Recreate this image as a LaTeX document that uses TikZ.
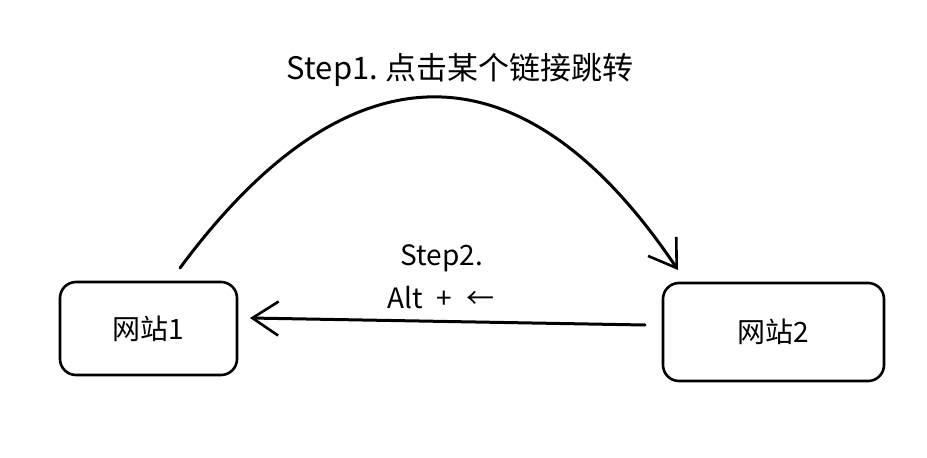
\documentclass[tikz,border=0pt]{standalone}
\usepackage{fontspec}
\setmainfont{Noto Sans CJK SC}
\usetikzlibrary{arrows.meta}
\begin{document}
\begin{tikzpicture}[x=1pt,y=-1pt,
  site/.style={draw=black,line width=2.6pt,rounded corners=16pt,fill=white,font=\fontsize{28}{30}\selectfont,inner sep=0pt},
  conn/.style={line width=3pt,line cap=round,-{Straight Barb[length=26pt,width=34pt,line width=2.6pt]}},
  lbl/.style={font=\fontsize{28}{30}\selectfont,inner sep=0pt}]
\useasboundingbox[fill=white] (0,0) rectangle (927,458);
\node[site,minimum width=177pt,minimum height=93pt] (a) at (148.5,328.5) {网站1};
\node[site,minimum width=221pt,minimum height=98pt] (b) at (773.5,332) {网站2};
\coordinate (s1) at (180,268);
\coordinate (e1) at (678,270);
\coordinate (s2) at (645,325);
\coordinate (e2) at (250,318);
\draw[conn] (s1) .. controls (345,45) and (520,35) .. (e1);
\draw[conn] (s2) -- (e2);
\node[lbl,font=\fontsize{31}{34}\selectfont] (t1) at (460,70) {Step1.~点击某个链接跳转};
\node[lbl] (t2) at (442,258) {Step2.};
\node[lbl] (t3) at (441,298) {Alt\hspace{14pt}+\hspace{14pt}←};
\end{tikzpicture}
\end{document}
